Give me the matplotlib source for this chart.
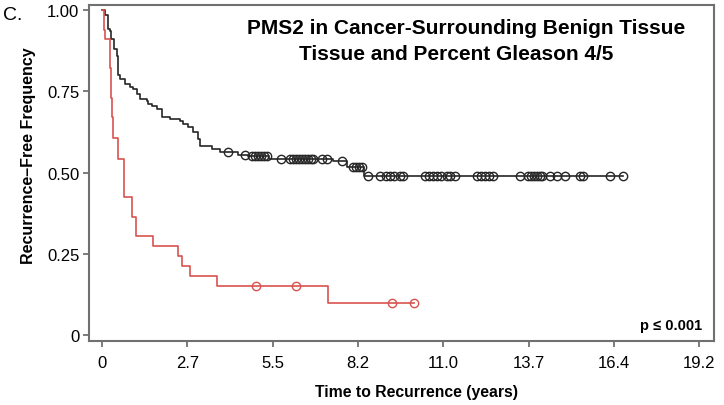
#!/usr/bin/env python3
# -*- coding: utf-8 -*-

import numpy as np
import matplotlib
matplotlib.use("Agg")
import matplotlib.pyplot as plt

plt.rcParams["font.family"] = ["Liberation Sans", "DejaVu Sans"]

# -------------------------
# Kaplan-Meier curves
# -------------------------
# black group: event times (years) and survival after each drop
black_times = [0.10, 0.19, 0.26, 0.30, 0.38, 0.48, 0.50, 0.52, 0.58, 0.74,
               0.90, 1.00, 1.12, 1.22, 1.44, 1.48, 1.60, 1.77, 1.93, 2.18,
               2.50, 2.60, 2.75, 2.92, 3.08, 3.15, 3.53, 3.79, 4.35, 4.70,
               5.35, 7.40, 7.85, 8.40]
black_surv = [0.985, 0.940, 0.935, 0.910, 0.880, 0.858, 0.830, 0.800, 0.788, 0.772,
              0.763, 0.757, 0.742, 0.726, 0.720, 0.711, 0.703, 0.695, 0.671, 0.665,
              0.658, 0.649, 0.640, 0.625, 0.603, 0.582, 0.572, 0.563, 0.554, 0.550,
              0.542, 0.535, 0.517, 0.489]
black_censor = [4.04, 4.59, 4.82, 4.91, 5.01, 5.10, 5.20, 5.30, 5.75,
                6.04, 6.14, 6.23, 6.33, 6.42, 6.52, 6.62, 6.71, 6.77, 7.06, 7.22,
                7.70, 8.06, 8.15, 8.25, 8.35, 8.54, 8.92, 9.12, 9.25, 9.37, 9.57,
                9.66, 10.37, 10.50, 10.63, 10.76, 10.88, 11.08, 11.17, 11.33,
                12.04, 12.17, 12.30, 12.42, 12.55, 13.42, 13.68, 13.77, 13.87,
                13.96, 14.06, 14.13, 14.38, 14.61, 14.86, 15.35, 15.44, 16.31, 16.73]

# red group
red_times = [0.05, 0.10, 0.26, 0.30, 0.33, 0.36, 0.51, 0.71, 0.96, 1.09,
             1.64, 2.44, 2.57, 2.83, 3.69, 7.26]
red_surv = [0.938, 0.911, 0.820, 0.730, 0.670, 0.606, 0.542, 0.425, 0.363, 0.305,
            0.274, 0.243, 0.212, 0.182, 0.151, 0.100]
red_censor = [4.94, 6.23, 9.31, 10.02]

xtick_vals = [0, 2.74, 5.48, 8.22, 10.96, 13.70, 16.44, 19.18]
xtick_labels = ["0", "2.7", "5.5", "8.2", "11.0", "13.7", "16.4", "19.2"]
ytick_vals = [0, 0.25, 0.50, 0.75, 1.00]
ytick_labels = ["0", "0.25", "0.50", "0.75", "1.00"]

BLACK = "#262626"
RED = "#d9534f"


def km_step(times, surv, t_end):
    x = np.concatenate([[0.0], times, [t_end]])
    y = np.concatenate([[1.0], surv, [surv[-1]]])
    return x, y


def surv_at(times, surv, t):
    times = np.asarray(times)
    idx = np.searchsorted(times, t, side="right") - 1
    return np.where(idx < 0, 1.0, np.asarray(surv)[np.maximum(idx, 0)])


fig = plt.figure(figsize=(7.24, 4.06), dpi=100)
ax = fig.add_axes([0.1229, 0.1576, 0.8633, 0.8276])

for times, surv, cens, col in [(black_times, black_surv, black_censor, BLACK),
                               (red_times, red_surv, red_censor, RED)]:
    x, y = km_step(times, surv, max(cens))
    ax.step(x, y, where="post", color=col, lw=1.2)
    ax.plot(cens, surv_at(times, surv, np.asarray(cens)), "o", ms=6,
            mfc="none", mec=col, mew=1.0)

ax.set_xlim(-0.42, 19.65)
ax.set_ylim(-0.018, 1.015)
ax.set_xticks(xtick_vals)
ax.set_xticklabels(xtick_labels)
ax.set_yticks(ytick_vals)
ax.set_yticklabels(ytick_labels)
ax.tick_params(direction="out", length=4, width=1.2, color="#666666",
               labelsize=12, pad=3)
ax.tick_params(axis="x", pad=6)
for sp in ax.spines.values():
    sp.set_color("#707070")
    sp.set_linewidth(1.5)

ax.set_ylabel("Recurrence\u2013Free Frequency", fontsize=11.5, fontweight="bold")
ax.yaxis.set_label_coords(-0.085, 0.554)
fig.text(417 / 724, 1 - 393 / 406, "Time to Recurrence (years)", fontsize=11.3,
         fontweight="bold", ha="center", va="center")

fig.text(466 / 724, 1 - 29 / 406, "PMS2 in Cancer-Surrounding Benign Tissue",
         fontsize=15, fontweight="bold", ha="center", va="center")
fig.text(456 / 724, 1 - 55 / 406, "Tissue and Percent Gleason 4/5",
         fontsize=15, fontweight="bold", ha="center", va="center")
fig.text(3 / 724, 1 - 16 / 406, "C.", fontsize=14, ha="left", va="center")
fig.text(702 / 724, 1 - 326 / 406, "p \u2264 0.001", fontsize=10.5,
         fontweight="bold", ha="right", va="center")

fig.savefig("out.png", dpi=100)
